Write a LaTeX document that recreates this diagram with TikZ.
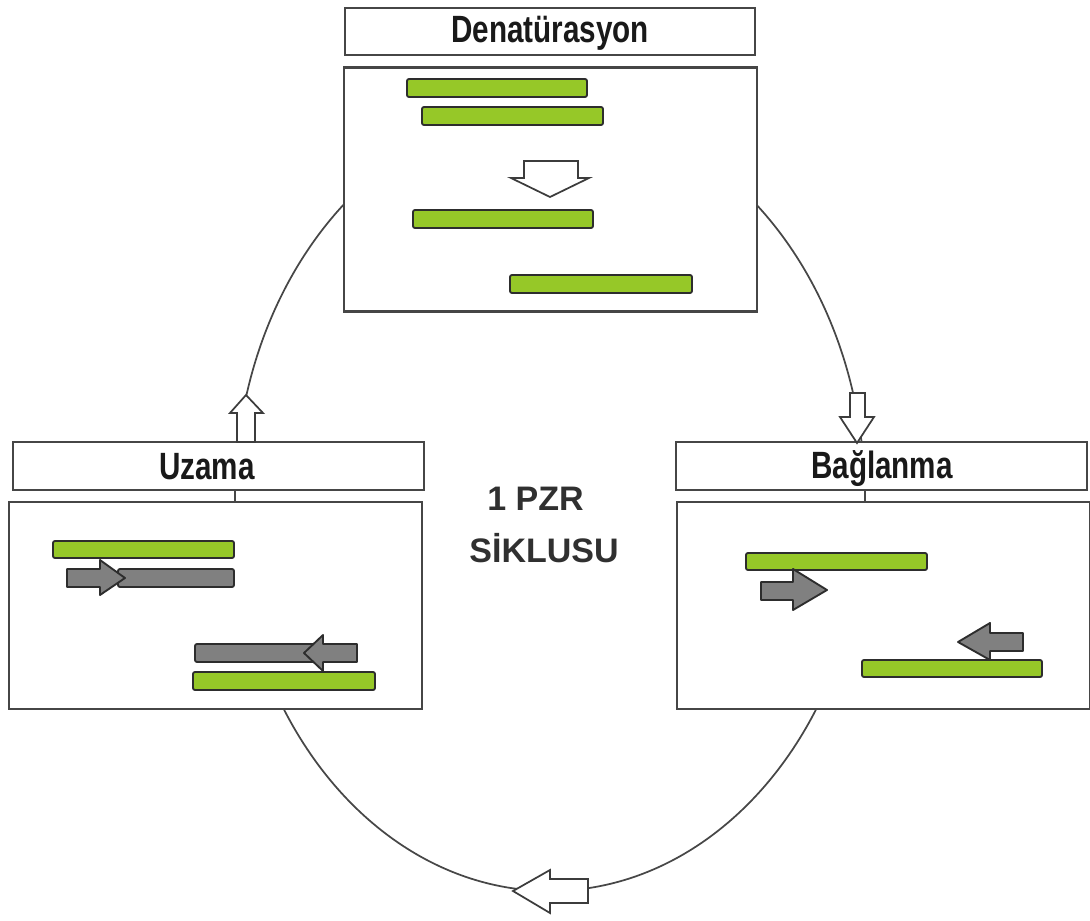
\documentclass[tikz,border=0pt]{standalone}
\usepackage{fontspec}
\usepackage{graphicx}
\setmainfont{Liberation Sans}
\definecolor{dnagreen}{RGB}{150,200,40}
\definecolor{primergray}{RGB}{128,128,128}
\definecolor{bardark}{RGB}{45,45,45}
\definecolor{boxgray}{RGB}{70,70,70}
\definecolor{inkdark}{RGB}{25,25,25}
\newcommand{\ttl}[1]{\scalebox{0.78}[1]{\fontsize{28.5}{30}\selectfont\bfseries #1}}
\tikzset{
  boxframe/.style={draw=boxgray, line width=2pt, fill=white, rectangle, inner sep=0pt},
  titletext/.style={inner sep=0pt, text=inkdark, anchor=base},
  centertext/.style={inner sep=0pt, text=inkdark!90, anchor=base, font=\fontsize{25.5}{27}\selectfont\bfseries},
  greenbar/.style={fill=dnagreen, draw=bardark, line width=1.4pt, rounded corners=1.5pt},
  graybar/.style={fill=primergray, draw=bardark, line width=1.4pt, rounded corners=1.5pt},
  grayarrow/.style={fill=primergray, draw=bardark, line width=1.4pt, line join=round},
  openarrow/.style={fill=white, draw=inkdark!85, line width=1.3pt, line join=miter},
  cycleline/.style={draw=inkdark!80, line width=1.3pt}
}
\begin{document}
\begin{tikzpicture}[x=0.75pt,y=-0.75pt]
\useasboundingbox[fill=white] (0,0) rectangle (1090,921);

% cycle ellipse behind everything
\coordinate (cyc) at (550,500);
\draw[cycleline] (cyc) ellipse [x radius=236.25pt, y radius=293.25pt];

% ---------- Denaturasyon ----------
\node[boxframe, minimum width=307.5pt, minimum height=35.25pt] (dtitle) at (550,31.5) {};
\node[titletext] (dtext) at (550,42) {\ttl{Denatürasyon}};
\node[boxframe, minimum width=309.75pt, minimum height=183pt] (dpanel) at (550.5,189.5) {};
\draw[greenbar] (407,79) rectangle (587,97);
\draw[greenbar] (422,107) rectangle (603,125);
\draw[openarrow] (524,161) -- (578,161) -- (578,178) -- (589,178) -- (550,197) -- (511,178) -- (524,178) -- cycle;
\draw[greenbar] (413,210) rectangle (593,228);
\draw[greenbar] (510,275) rectangle (692,293);

% ---------- Uzama ----------
\node[boxframe, minimum width=308.25pt, minimum height=36pt] (utitle) at (218.5,466) {};
\node[titletext] (utext) at (207,479) {\ttl{Uzama}};
\node[boxframe, minimum width=309.75pt, minimum height=155.25pt] (upanel) at (215.5,605.5) {};
\draw[greenbar] (53,541) rectangle (234,558);
\draw[graybar] (118,569) rectangle (234,587);
\draw[grayarrow] (67,569) -- (100,569) -- (100,560) -- (125,578) -- (100,595) -- (100,587) -- (67,587) -- cycle;
\draw[graybar] (195,644) rectangle (330,662);
\draw[grayarrow] (357,644) -- (323,644) -- (323,635) -- (304,653) -- (323,671) -- (323,662) -- (357,662) -- cycle;
\draw[greenbar] (193,672) rectangle (375,690);

% ---------- Baglanma ----------
\node[boxframe, minimum width=308.25pt, minimum height=36pt] (btitle) at (881.5,466) {};
\node[titletext] (btext) at (882,478) {\ttl{Bağlanma}};
\node[boxframe, minimum width=309.75pt, minimum height=155.25pt] (bpanel) at (883.5,605.5) {};
\draw[greenbar] (746,553) rectangle (927,570);
\draw[grayarrow] (761,582) -- (793,582) -- (793,569) -- (827,590) -- (793,610) -- (793,600) -- (761,600) -- cycle;
\draw[grayarrow] (1023,633) -- (990,633) -- (990,623) -- (958,642) -- (990,660) -- (990,651) -- (1023,651) -- cycle;
\draw[greenbar] (862,660) rectangle (1042,677);

% ---------- cycle arrows ----------
\draw[openarrow] (237,442) -- (237,413) -- (230,413) -- (246,395) -- (263,413) -- (255,413) -- (255,442) -- cycle;
\draw[openarrow] (850,393) -- (865,393) -- (865,417) -- (874,417) -- (857,443) -- (840,417) -- (850,417) -- cycle;
\draw[openarrow] (588,879) -- (550,879) -- (550,870) -- (513,891) -- (550,913) -- (550,903) -- (588,903) -- cycle;

% ---------- centre label ----------
\node[centertext] (lab1) at (535.5,510) {1 PZR};
\node[centertext] (lab2) at (544,562) {SİKLUSU};
\end{tikzpicture}
\end{document}
